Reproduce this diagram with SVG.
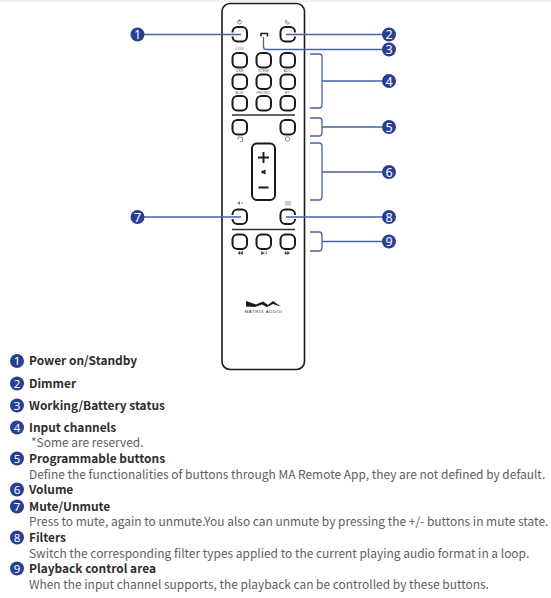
<svg xmlns="http://www.w3.org/2000/svg" width="551" height="598" viewBox="0 0 551 598">
<defs>
<style>
.rem{fill:none;stroke:#1a1a1a;stroke-width:1.6}
.btn{fill:#fff;stroke:#1a1a1a;stroke-width:2}
.bar{stroke:#333;stroke-width:1.5;fill:none}
.con{fill:none;stroke:#4a62a3;stroke-width:1.300}
.halo{fill:none;stroke:#fff;stroke-width:4}
.bd{fill:#2a3f92}
.n{font-family:"Noto Sans","Liberation Sans",sans-serif;font-size:12.500px;fill:#fff;text-anchor:middle}
.m{font-family:"Noto Sans","Liberation Sans",sans-serif;font-size:11.500px;fill:#fff;text-anchor:middle}
.t{font-family:"Noto Sans CJK SC","Noto Sans",sans-serif;font-size:11.900px;font-weight:700;fill:#2e2e2e}
.d{font-family:"Noto Sans CJK SC","Noto Sans",sans-serif;font-size:11.950px;fill:#5e5e5e}
.s{font-family:"Liberation Sans",sans-serif;font-size:3.800px;fill:#666;text-anchor:middle}
.ic{fill:none;stroke:#666;stroke-width:.7}
</style>
<rect id="b" class="btn" width="14.500" height="14.500" rx="5"/>
</defs>
<rect width="551" height="598" fill="#fff"/>
<rect x="0" y="0" width="551" height="2" fill="#f1f1f1"/>
<g id="remote">
<rect class="rem" x="222" y="3.500" width="82.500" height="366" rx="8"/>
<line class="bar" x1="232" y1="115" x2="295" y2="115"/>
<line class="bar" x1="232" y1="229.500" x2="295" y2="229.500"/>
</g>
<g id="buttons">
<use href="#b" x="232.500" y="27"/><use href="#b" x="280.500" y="27"/>
<path d="M261 36.500v-3h6.500v3" fill="none" stroke="#1a1a1a" stroke-width="1.500"/>
<use href="#b" x="232.500" y="53"/><use href="#b" x="256.500" y="53"/><use href="#b" x="280.500" y="53"/>
<use href="#b" x="232.500" y="74.500"/><use href="#b" x="256.500" y="74.500"/><use href="#b" x="280.500" y="74.500"/>
<use href="#b" x="232.500" y="96"/><use href="#b" x="256.500" y="96"/><use href="#b" x="280.500" y="96"/>
<use href="#b" x="232.500" y="120"/><use href="#b" x="280.500" y="120"/>
<rect class="btn" x="252" y="143.500" width="23" height="56.500" rx="5"/>
<path d="M263.500 152v11M258 157.500h11M258.500 187.500h10" stroke="#1a1a1a" stroke-width="1.900" fill="none"/>
<path d="M265.500 169.500v5l-2.500-1.200h-1.500v-2.600h1.500z" fill="#1a1a1a"/>
<use href="#b" x="232.500" y="209.500"/><use href="#b" x="280.500" y="209.500"/>
<use href="#b" x="232.500" y="234.500"/><use href="#b" x="256.500" y="234.500"/><use href="#b" x="280.500" y="234.500"/>
</g>
<g id="button-labels">
<circle class="ic" cx="239.500" cy="22" r="2"/><path class="ic" d="M239.500 19.500v2.500"/>
<path class="ic" d="M286.500 20c-2 1-1.500 4 1 4 1 0 1.500-.5 2-1-2 0-3-1-3-3z"/>
<text class="s" x="239.500" y="50">COX</text><text class="s" x="263.500" y="50">L</text>
<text class="s" x="239.500" y="72">USB</text><text class="s" x="263.500" y="72">STEM</text><text class="s" x="287.500" y="72">ADC</text>
<text class="s" x="239.500" y="93.500">AUX</text><text class="s" x="263.500" y="93.500">PHONO</text><text class="s" x="287.500" y="93.500">BT</text>
<path class="ic" d="M238 137h4.500v4.500h-2.500M238 137v2.500"/>
<circle class="ic" cx="287.500" cy="139" r="2.200"/>
<path d="M237 202.500h1.500l1.500-1.500v4l-1.500-1.500h-1.500z" fill="#666"/><path class="ic" d="M241 203h2"/>
<path class="ic" d="M286 201v4.500M288 201v4.500M290 201v4.500"/>
<path d="M240 251.500v3l-2-1.500zM242.500 251.500v3l-2-1.500zM261.500 251.500v3l2.500-1.500zM265 251.500v3M266.500 251.500v3M285 251.500v3l2 -1.500zM287.500 251.500v3l2-1.500z" fill="#333" stroke="#333" stroke-width=".5"/>
</g>
<g id="logo">
<path d="M246 301L256 304.500L263 301.500L268 305L273 301L281 306.700L273 304L267 307L262 304.500L255 307L246 306.500Z" fill="#1a1a1a"/>
<text x="263.500" y="313" font-family="Liberation Sans,sans-serif" font-size="4.300" fill="#333" text-anchor="middle" letter-spacing=".6">MATRIX AUDIO</text>
</g>
<g id="connectors">
<path class="halo" d="M230 34.500H236M230 217H236M291 34.500H298M291 217H298"/>
<path class="con" d="M137 34.500H241"/>
<path class="con" d="M286 34.500H389"/>
<path class="con" d="M263.500 37v9q0 3.500 3.500 3.500H389"/>
<path class="con" d="M310 54h9q3 0 3 3v48q0 3-3 3h-9M322 81H389"/>
<path class="con" d="M310 118h9q3 0 3 3v12q0 3-3 3h-9M322 127H389"/>
<path class="con" d="M310 143h9q3 0 3 3v51q0 3-3 3h-9M322 172H389"/>
<path class="con" d="M137 217H241"/>
<path class="con" d="M286 217H389"/>
<path class="con" d="M310 232h9q3 0 3 3v13q0 3-3 3h-9M322 241.500H389"/>
</g>
<g id="c1"><circle class="bd" cx="137.500" cy="34.500" r="7"/><text class="n" x="137.500" y="39">1</text></g>
<g id="c2"><circle class="bd" cx="389" cy="34.500" r="7"/><text class="n" x="389" y="39">2</text></g>
<g id="c3"><circle class="bd" cx="389" cy="49.500" r="7"/><text class="n" x="389" y="54">3</text></g>
<g id="c4"><circle class="bd" cx="389" cy="81" r="7"/><text class="n" x="389" y="85.500">4</text></g>
<g id="c5"><circle class="bd" cx="389" cy="127" r="7"/><text class="n" x="389" y="131.500">5</text></g>
<g id="c6"><circle class="bd" cx="389" cy="172" r="7"/><text class="n" x="389" y="176.500">6</text></g>
<g id="c7"><circle class="bd" cx="137.500" cy="217" r="7"/><text class="n" x="137.500" y="221.500">7</text></g>
<g id="c8"><circle class="bd" cx="389" cy="217" r="7"/><text class="n" x="389" y="221.500">8</text></g>
<g id="c9"><circle class="bd" cx="389" cy="241.500" r="7"/><text class="n" x="389" y="246">9</text></g>
<g id="legend">
<g id="l1"><circle class="bd" cx="17" cy="361" r="7"/><text class="m" x="17" y="365">1</text><text class="t" x="29" y="365">Power on/Standby</text></g>
<g id="l2"><circle class="bd" cx="17" cy="383.500" r="7"/><text class="m" x="17" y="387.500">2</text><text class="t" x="29" y="388">Dimmer</text></g>
<g id="l3"><circle class="bd" cx="17" cy="405.500" r="7"/><text class="m" x="17" y="409.500">3</text><text class="t" x="29" y="410">Working/Battery status</text></g>
<g id="l4"><circle class="bd" cx="17" cy="427.500" r="7"/><text class="m" x="17" y="431.500">4</text><text class="t" x="29" y="432">Input channels</text><text class="d" x="31" y="447">*Some are reserved.</text></g>
<g id="l5"><circle class="bd" cx="17" cy="458.500" r="7"/><text class="m" x="17" y="462.500">5</text><text class="t" x="29" y="463">Programmable buttons</text><text class="d" x="29" y="479">Define the functionalities of buttons through MA Remote App, they are not defined by default.</text></g>
<g id="l6"><circle class="bd" cx="17" cy="489.500" r="7"/><text class="m" x="17" y="493.500">6</text><text class="t" x="29" y="494">Volume</text></g>
<g id="l7"><circle class="bd" cx="17" cy="506.500" r="7"/><text class="m" x="17" y="510.500">7</text><text class="t" x="29" y="511">Mute/Unmute</text><text class="d" x="29" y="526">Press to mute, again to unmute.You also can unmute by pressing the +/- buttons in mute state.</text></g>
<g id="l8"><circle class="bd" cx="17" cy="537.500" r="7"/><text class="m" x="17" y="541.500">8</text><text class="t" x="29" y="542">Filters</text><text class="d" x="29" y="558">Switch the corresponding filter types applied to the current playing audio format in a loop.</text></g>
<g id="l9"><circle class="bd" cx="17" cy="568.500" r="7"/><text class="m" x="17" y="572.500">9</text><text class="t" x="29" y="573">Playback control area</text><text class="d" x="29" y="589">When the input channel supports, the playback can be controlled by these buttons.</text></g>
</g>
</svg>
